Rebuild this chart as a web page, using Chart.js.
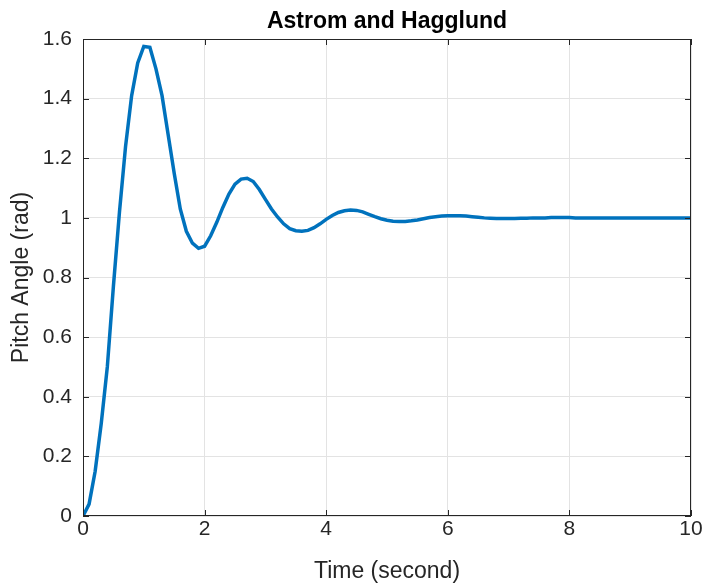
<!DOCTYPE html>
<html>
<head>
<meta charset="utf-8">
<script src="https://cdn.jsdelivr.net/npm/chart.js@4/dist/chart.umd.min.js"></script>
<style>
  html, body { margin: 0; padding: 0; background: #fff; }
  #wrap { width: 703px; height: 586px; }
</style>
</head>
<body>
<div id="wrap"><canvas id="myChart" width="703" height="586"></canvas></div>
<script>
// time samples (s)
const tiempos = [
  0, 0.1, 0.2, 0.3, 0.4, 0.5, 0.6, 0.7, 0.8, 0.9,
  1, 1.1, 1.2, 1.3, 1.4, 1.5, 1.6, 1.7, 1.8, 1.9,
  2, 2.1, 2.2, 2.3, 2.4, 2.5, 2.6, 2.7, 2.8, 2.9,
  3, 3.1, 3.2, 3.3, 3.4, 3.5, 3.6, 3.7, 3.8, 3.9,
  4, 4.1, 4.2, 4.3, 4.4, 4.5, 4.6, 4.7, 4.8, 4.9,
  5, 5.1, 5.2, 5.3, 5.4, 5.5, 5.6, 5.7, 5.8, 5.9,
  6, 6.1, 6.2, 6.3, 6.4, 6.5, 6.6, 6.7, 6.8, 6.9,
  7, 7.1, 7.2, 7.3, 7.4, 7.5, 7.6, 7.7, 7.8, 7.9,
  8, 8.1, 8.2, 8.3, 8.4, 8.5, 8.6, 8.7, 8.8, 8.9,
  9, 9.1, 9.2, 9.3, 9.4, 9.5, 9.6, 9.7, 9.8, 9.9,
  10
];

// pitch angle (rad)
const angulo = [
  0, 0.04, 0.15, 0.31, 0.5, 0.77, 1.02, 1.24, 1.41, 1.52,
  1.575, 1.572, 1.5, 1.41, 1.28, 1.15, 1.03, 0.955, 0.915, 0.898,
  0.905, 0.94, 0.985, 1.035, 1.08, 1.113, 1.13, 1.133, 1.122, 1.095,
  1.062, 1.03, 1.003, 0.98, 0.964, 0.957, 0.955, 0.958, 0.967, 0.98,
  0.995, 1.008, 1.018, 1.024, 1.026, 1.025, 1.02, 1.012, 1.004, 0.997,
  0.992, 0.989, 0.988, 0.988, 0.99, 0.993, 0.997, 1.001, 1.004, 1.006,
  1.007, 1.007, 1.007, 1.006, 1.004, 1.002, 1, 0.999, 0.998, 0.998,
  0.998, 0.998, 0.999, 0.999, 1, 1, 1, 1.001, 1.001, 1.001,
  1.001, 1, 1, 1, 1, 1, 1, 1, 1, 1,
  1, 1, 1, 1, 1, 1, 1, 1, 1, 1,
  1
];

const xTicks = [0, 2, 4, 6, 8, 10];
const yTicks = [0, 0.2, 0.4, 0.6, 0.8, 1, 1.2, 1.4, 1.6];

const fuente = "'Liberation Sans', Arial, Helvetica, sans-serif";
const gris = "#262626";

// box around the axes with inward ticks, like matlab
const cajaEjes = {
  id: "cajaEjes",
  afterDraw(chart) {
    const { ctx, chartArea: a, scales } = chart;
    const largo = 6;
    ctx.save();
    ctx.strokeStyle = gris;
    ctx.lineWidth = 1;
    ctx.beginPath();
    xTicks.forEach(function (v) {
      const px = Math.round(scales.x.getPixelForValue(v)) + 0.5;
      ctx.moveTo(px, a.bottom);
      ctx.lineTo(px, a.bottom - largo);
      ctx.moveTo(px, a.top);
      ctx.lineTo(px, a.top + largo);
    });
    yTicks.forEach(function (v) {
      const py = Math.round(scales.y.getPixelForValue(v)) + 0.5;
      ctx.moveTo(a.left, py);
      ctx.lineTo(a.left + largo, py);
      ctx.moveTo(a.right, py);
      ctx.lineTo(a.right - largo, py);
    });
    ctx.stroke();
    ctx.strokeRect(Math.round(a.left) + 0.5, Math.round(a.top) + 0.5,
      Math.round(a.width) - 1, Math.round(a.height) - 1);
    ctx.restore();
  },
};

const data = {
  datasets: [
    {
      label: "Pitch",
      data: tiempos.map(function (t, i) {
        return { x: t, y: angulo[i] };
      }),
      borderColor: "#0072BD",
      borderWidth: 3.5,
      pointRadius: 0,
      tension: 0,
      fill: false,
    },
  ],
};

const config = {
  type: "line",
  data,
  plugins: [cajaEjes],
  options: {
    responsive: false,
    animation: false,
    layout: { padding: { top: 0, right: 12, bottom: 0, left: 0 } },
    plugins: {
      legend: { display: false },
      tooltip: { enabled: false },
      title: {
        display: true,
        text: "Astrom and Hagglund",
        color: "#000",
        fullSize: false,
        font: { family: fuente, size: 23, weight: "bold" },
        padding: { top: 8, bottom: 3.4 },
      },
    },
    scales: {
      x: {
        type: "linear",
        min: 0,
        max: 10,
        afterBuildTicks: function (scale) {
          scale.ticks = xTicks.map(function (v) { return { value: v }; });
        },
        afterFit: function (scale) {
          scale.height = 70;
          scale.paddingRight = 0;
        },
        ticks: {
          color: gris,
          padding: 1,
          maxRotation: 0,
          font: { family: fuente, size: 21 },
          callback: function (v) { return String(v); },
        },
        grid: { color: "#e3e3e3", drawTicks: false },
        border: { display: false },
        title: {
          display: true,
          text: "Time (second)",
          color: gris,
          font: { family: fuente, size: 23 },
          padding: { top: 0, bottom: 1 },
        },
      },
      y: {
        min: 0,
        max: 1.6,
        afterBuildTicks: function (scale) {
          scale.ticks = yTicks.map(function (v) { return { value: v }; });
        },
        afterFit: function (scale) { scale.width = 83; },
        ticks: {
          color: gris,
          padding: 11,
          font: { family: fuente, size: 21 },
          callback: function (v) { return String(Number(v.toFixed(1))); },
        },
        grid: { color: "#e3e3e3", drawTicks: false },
        border: { display: false },
        title: {
          display: true,
          text: "Pitch Angle (rad)",
          color: gris,
          font: { family: fuente, size: 23 },
          padding: { top: 8, bottom: 0 },
        },
      },
    },
  },
};

new Chart(document.getElementById("myChart"), config);
</script>
</body>
</html>
